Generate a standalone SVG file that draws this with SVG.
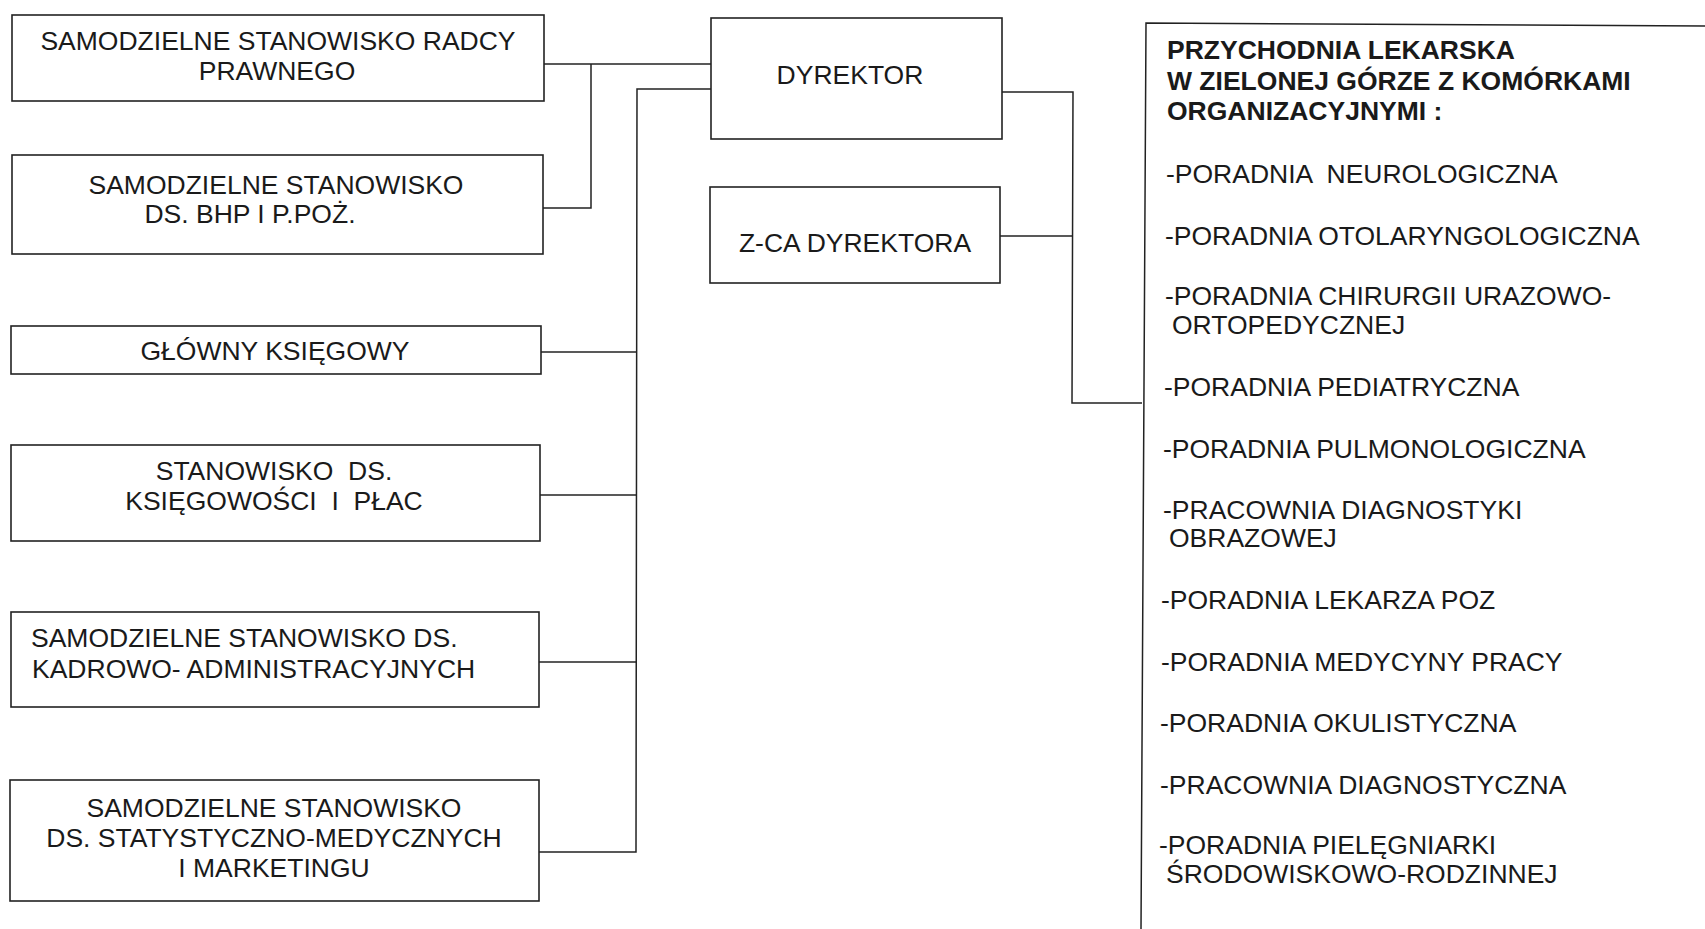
<svg xmlns="http://www.w3.org/2000/svg" width="1705" height="929" viewBox="0 0 1705 929">
<style>
.box{fill:#fff;stroke:#222;stroke-width:1.6}
.c{fill:none;stroke:#222;stroke-width:1.5}
text{font-family:"Liberation Sans",Arial,sans-serif;font-size:26.5px;fill:#1a1a1a;white-space:pre}
.m{text-anchor:middle}
.b{font-weight:bold;font-size:26.5px}
</style>
<rect width="1705" height="929" fill="#fff"/>
<g id="connectors">
<polyline class="c" points="544,64 711,64"/>
<polyline class="c" points="591,64 591,208 543,208"/>
<polyline class="c" points="711,89 637,89 636,852 539,852"/>
<polyline class="c" points="541,352 637,352"/>
<polyline class="c" points="540,495 637,495"/>
<polyline class="c" points="539,662 637,662"/>
<polyline class="c" points="1002,92 1073,92 1072,403 1142,403"/>
<polyline class="c" points="1000,236 1073,236"/>
</g>
<g id="radca">
<rect class="box" x="12" y="15" width="532" height="86"/>
<text class="m" x="278" y="50">SAMODZIELNE STANOWISKO RADCY</text>
<text class="m" x="277" y="80">PRAWNEGO</text>
</g>
<g id="bhp">
<rect class="box" x="12" y="155" width="531" height="99"/>
<text class="m" x="276" y="194">SAMODZIELNE STANOWISKO</text>
<text class="m" x="250" y="223">DS. BHP I P.POŻ.</text>
</g>
<g id="ksiegowy">
<rect class="box" x="11" y="326" width="530" height="48"/>
<text class="m" x="275" y="360">GŁÓWNY KSIĘGOWY</text>
</g>
<g id="ksiegowosc">
<rect class="box" x="11" y="445" width="529" height="96"/>
<text class="m" x="274" y="480">STANOWISKO  DS.</text>
<text class="m" x="274" y="510">KSIĘGOWOŚCI  I  PŁAC</text>
</g>
<g id="kadry">
<rect class="box" x="11" y="612" width="528" height="95"/>
<text x="31" y="647">SAMODZIELNE STANOWISKO DS.</text>
<text x="32" y="678">KADROWO- ADMINISTRACYJNYCH</text>
</g>
<g id="statystyka">
<rect class="box" x="10" y="780" width="529" height="121"/>
<text class="m" x="274" y="817">SAMODZIELNE STANOWISKO</text>
<text class="m" x="274" y="847">DS. STATYSTYCZNO-MEDYCZNYCH</text>
<text class="m" x="274" y="877">I MARKETINGU</text>
</g>
<g id="dyrektor">
<rect class="box" x="711" y="18" width="291" height="121"/>
<text class="m" x="850" y="84">DYREKTOR</text>
</g>
<g id="zastepca">
<rect class="box" x="710" y="187" width="290" height="96"/>
<text class="m" x="855" y="252">Z-CA DYREKTORA</text>
</g>
<g id="przychodnia">
<path class="c" d="M1705,26 L1146,23 L1141,929" stroke-width="1.6"/>
<text class="b" x="1167" y="59">PRZYCHODNIA LEKARSKA</text>
<text class="b" x="1167" y="90">W ZIELONEJ GÓRZE Z KOMÓRKAMI</text>
<text class="b" x="1167" y="120">ORGANIZACYJNYMI :</text>
<text x="1166" y="183">-PORADNIA  NEUROLOGICZNA</text>
<text x="1165" y="245">-PORADNIA OTOLARYNGOLOGICZNA</text>
<text x="1165" y="305">-PORADNIA CHIRURGII URAZOWO-</text>
<text x="1172" y="334">ORTOPEDYCZNEJ</text>
<text x="1164" y="396">-PORADNIA PEDIATRYCZNA</text>
<text x="1163" y="458">-PORADNIA PULMONOLOGICZNA</text>
<text x="1163" y="519">-PRACOWNIA DIAGNOSTYKI</text>
<text x="1169" y="547">OBRAZOWEJ</text>
<text x="1161" y="609">-PORADNIA LEKARZA POZ</text>
<text x="1161" y="671">-PORADNIA MEDYCYNY PRACY</text>
<text x="1160" y="732">-PORADNIA OKULISTYCZNA</text>
<text x="1160" y="794">-PRACOWNIA DIAGNOSTYCZNA</text>
<text x="1159" y="854">-PORADNIA PIELĘGNIARKI</text>
<text x="1166" y="883">ŚRODOWISKOWO-RODZINNEJ</text>
</g>
</svg>
